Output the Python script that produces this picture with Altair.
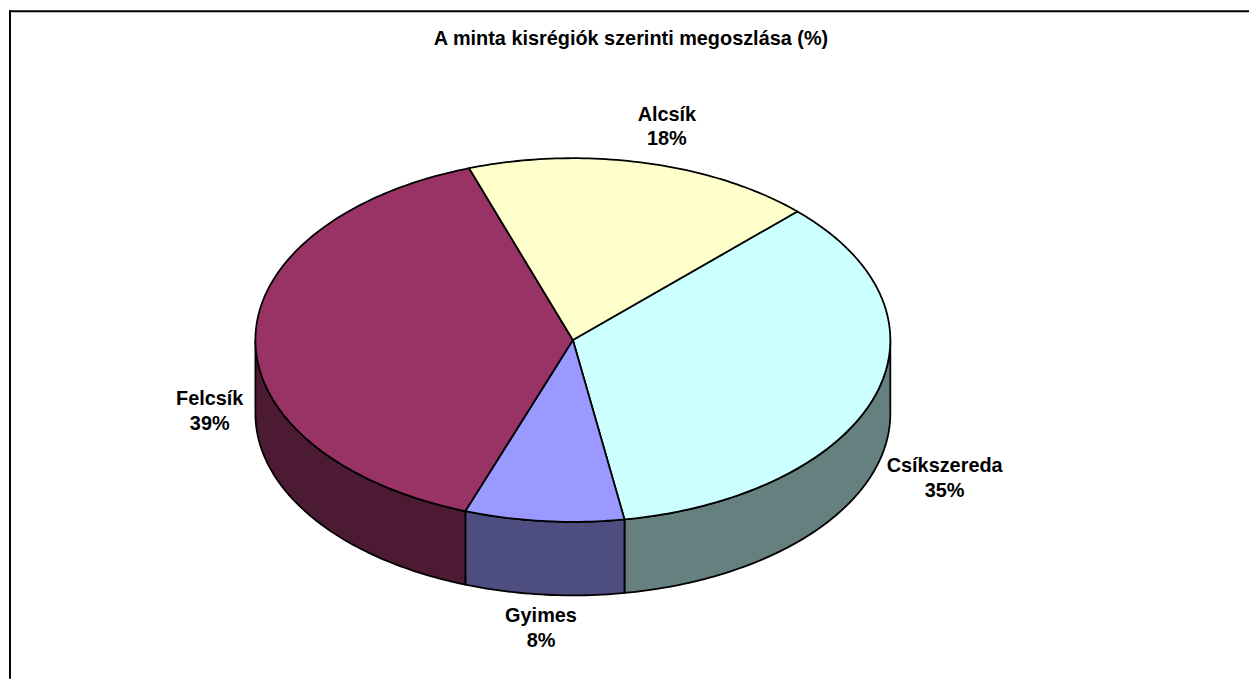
import math
import altair as alt

regions = ["Csíkszereda", "Gyimes", "Felcsík", "Alcsík"]
shares = [34.9, 8.1, 39.2, 17.8]
percent_labels = ["35%", "8%", "39%", "18%"]
top_colors = ["#CCFFFF", "#9999FF", "#993366", "#FFFFCC"]
wall_colors = ["#667F7F", "#4D4D80", "#4D1A33", "#80806A"]
title_text = "A minta kisrégiók szerinti megoszlása (%)"

# Excel-style 3D pie: the first slice starts 45 degrees clockwise from the top.
FIRST_ANGLE = 45.0
TILT = 183 / 319.5
DEPTH = 74 / 319.5
PX = 319.5
CX, CY = 576.5 - 8, 340 - 8
label_offsets = [(70, 70.5), (-3, 95.5), (-46, 61), (23, -48.5)]


def rim(angle, drop=0.0):
    a = math.radians(angle)
    return [math.sin(a), TILT * math.cos(a) - drop]


def arc(a0, a1, drop=0.0):
    n = max(2, int(abs(a1 - a0)) + 1)
    return [rim(a0 + (a1 - a0) * i / (n - 1), drop) for i in range(n)]


def feature(ring, fill):
    ring = ring + [ring[0]]
    return {
        "type": "Feature",
        "geometry": {"type": "Polygon", "coordinates": [ring]},
        "properties": {"fill": fill},
    }


walls, tops, labels = [], [], []
start = FIRST_ANGLE
for name, share, pct, top, wall, off in zip(
    regions, shares, percent_labels, top_colors, wall_colors, label_offsets
):
    end = start + share / sum(shares) * 360
    tops.append(feature([[0.0, 0.0]] + arc(start, end), top))
    w0, w1 = max(start, 90), min(end, 270)
    if w1 > w0:
        walls.append(feature(arc(w0, w1) + arc(w1, w0, DEPTH), wall))
    mid = rim((start + end) / 2)
    labels.append(
        {
            "text": f"{name}\n{pct}",
            "lon": mid[0] + off[0] / PX,
            "lat": mid[1] - off[1] / PX,
        }
    )
    start = end

projection = dict(type="identity", reflectY=True, scale=PX, translate=[CX, CY])


def shapes(features):
    return (
        alt.Chart(alt.Data(values=features))
        .mark_geoshape(stroke="black", strokeWidth=1.8, strokeJoin="round")
        .encode(fill=alt.Fill("properties.fill:N", scale=None, legend=None))
        .project(**projection)
    )


label_layer = (
    alt.Chart(alt.Data(values=labels))
    .mark_text(
        font="Liberation Sans",
        fontWeight="bold",
        fontSize=20,
        lineBreak="\n",
        lineHeight=25,
        align="center",
        baseline="middle",
        color="black",
    )
    .encode(longitude="lon:Q", latitude="lat:Q", text="text:N")
    .project(**projection)
)

title_layer = (
    alt.Chart(alt.Data(values=[{"text": title_text}]))
    .mark_text(
        font="Liberation Sans", fontWeight="bold", fontSize=20, align="center", baseline="middle", color="black"
    )
    .encode(x=alt.value(627), y=alt.value(29), text="text:N")
)

frame_top = alt.Chart(alt.Data(values=[{"a": 0}])).mark_rule(color="black", strokeWidth=2).encode(
    x=alt.value(1), x2=alt.value(1249), y=alt.value(1)
)
frame_left = alt.Chart(alt.Data(values=[{"a": 0}])).mark_rule(color="black", strokeWidth=2).encode(
    x=alt.value(2), y=alt.value(0), y2=alt.value(673)
)

chart = (
    alt.layer(shapes(walls), shapes(tops), label_layer, title_layer, frame_top, frame_left)
    .properties(
        width=1249,
        height=673,
        padding=0,
        background="white",
        autosize=alt.AutoSizeParams(type="none"),
    )
    .configure_view(stroke=None)
)

chart.save("out.html", embed_options={"renderer": "svg", "actions": False})
